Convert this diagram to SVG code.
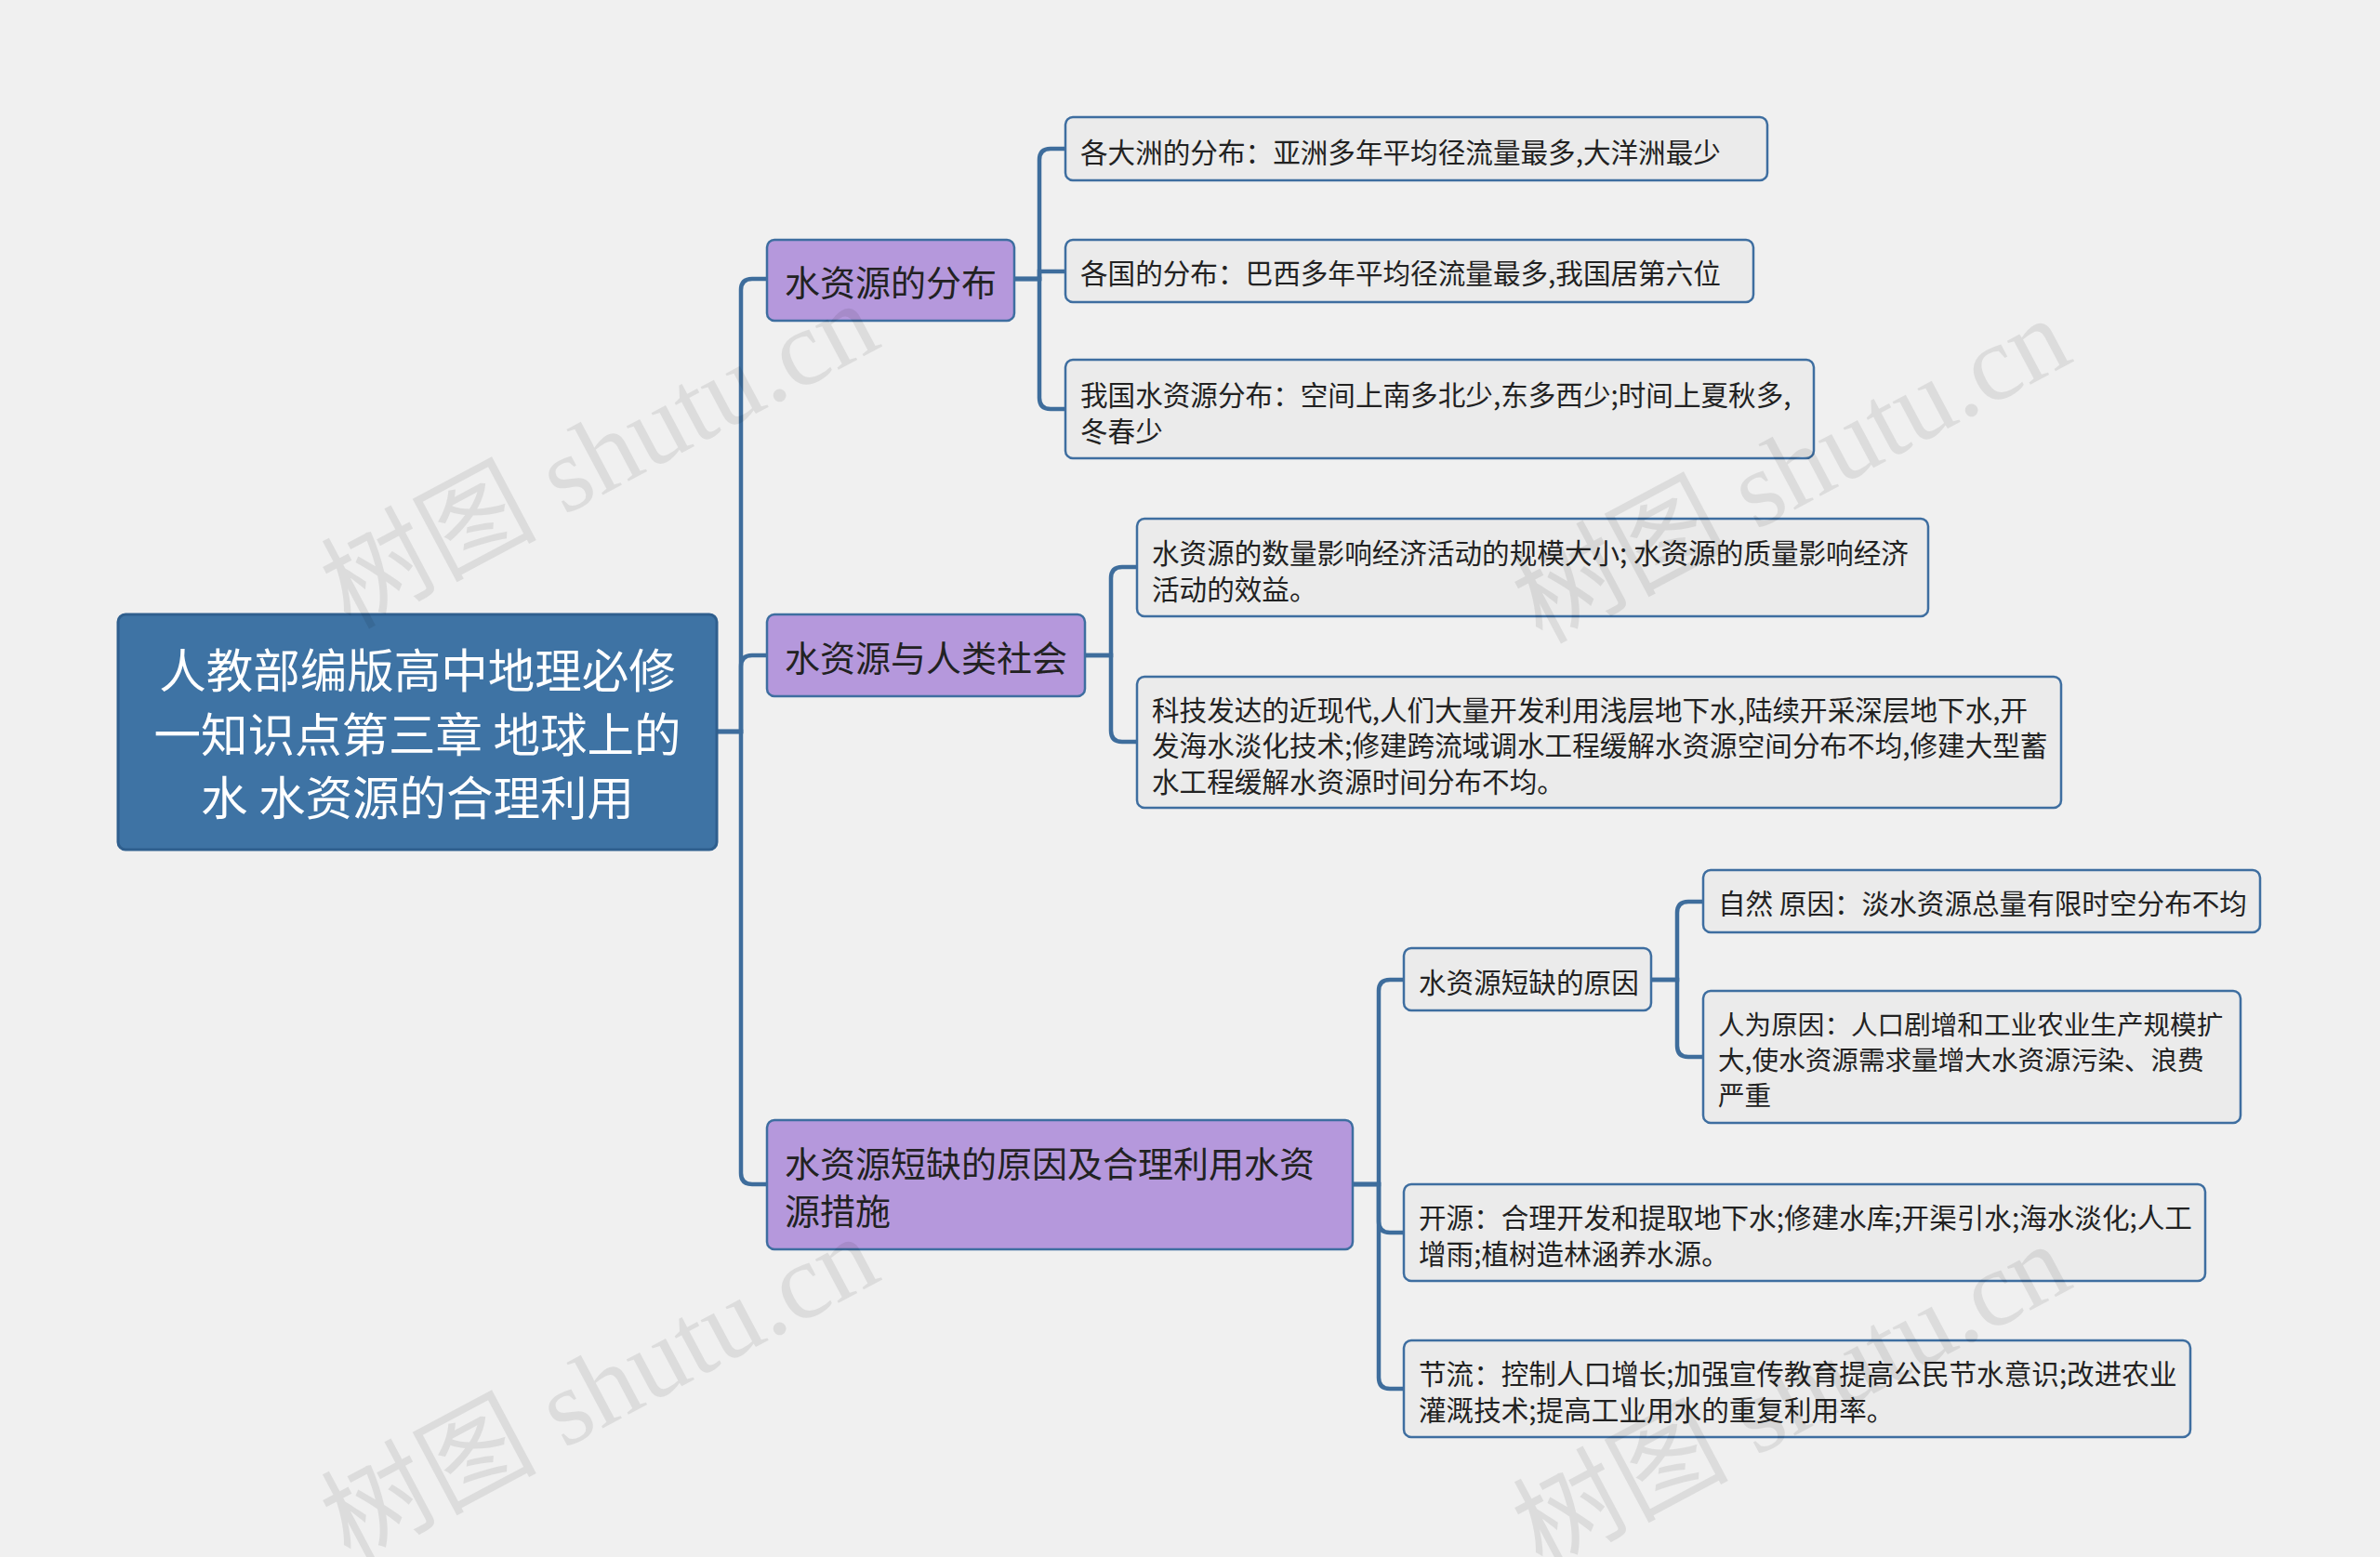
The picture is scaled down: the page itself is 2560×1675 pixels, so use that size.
<svg xmlns="http://www.w3.org/2000/svg" width="2560" height="1675" viewBox="0 0 2560 1675">
<style>
text{font-family:"Noto Sans CJK SC","Noto Sans",sans-serif;dominant-baseline:central}
.root rect{fill:#3e73a4;stroke:#2f5f8e;stroke-width:3}
.root text{fill:#fff;font-size:50.5px;text-anchor:middle}
.l1 rect{fill:#b598dc;stroke:#3e6ea0;stroke-width:2.5}
.l1 text{fill:#222;font-size:38px}
.l2 rect{fill:#ebebeb;stroke:#3e6ea0;stroke-width:2.5}
.l2 text{fill:#222;font-size:29.6px}
#n3a2 text{font-size:28.6px}
#connectors path{fill:none;stroke:#3e6d9c;stroke-width:4.5}
.wm{fill:#000;opacity:0.08;font-size:116px;font-family:"Liberation Serif","Noto Sans CJK SC",serif}
</style>
<rect width="2560" height="1675" fill="#f0f0f0"/>
<g id="connectors">
<path d="M771 787H797V312Q797 300 809 300H825"/>
<path d="M771 787H797V717Q797 705 809 705H825"/>
<path d="M771 787H797V1262Q797 1274 809 1274H825"/>
<path d="M1091 300H1118V172Q1118 160 1130 160H1146"/>
<path d="M1091 300H1118V292H1146"/>
<path d="M1091 300H1118V428Q1118 440 1130 440H1146"/>
<path d="M1167 705H1195V622Q1195 610 1207 610H1223"/>
<path d="M1167 705H1195V786Q1195 798 1207 798H1223"/>
<path d="M1455 1274H1483V1066Q1483 1054 1495 1054H1510"/>
<path d="M1455 1274H1483V1314Q1483 1326 1495 1326H1510"/>
<path d="M1455 1274H1483V1482Q1483 1494 1495 1494H1510"/>
<path d="M1776 1054H1804V982Q1804 970 1816 970H1832"/>
<path d="M1776 1054H1804V1125Q1804 1137 1816 1137H1832"/>
</g>
<g id="root" class="root"><rect x="127" y="661" width="644" height="253" rx="8"/>
<text x="449" y="718">人教部编版高中地理必修</text><text x="449" y="787">一知识点第三章 地球上的</text><text x="449" y="855">水 水资源的合理利用</text></g>
<g id="n1" class="l1"><rect x="825" y="258" width="266" height="87" rx="8"/><text x="844" y="301">水资源的分布</text></g>
<g id="n2" class="l1"><rect x="825" y="661" width="342" height="88" rx="8"/><text x="844" y="705">水资源与人类社会</text></g>
<g id="n3" class="l1"><rect x="825" y="1205" width="630" height="139" rx="8"/><text x="844" y="1249">水资源短缺的原因及合理利用水资</text><text x="844" y="1300">源措施</text></g>
<g id="n1a" class="l2"><rect x="1146" y="126" width="755" height="68" rx="8"/><text x="1162" y="162">各大洲的分布：亚洲多年平均径流量最多,大洋洲最少</text></g>
<g id="n1b" class="l2"><rect x="1146" y="258" width="740" height="67" rx="8"/><text x="1162" y="292">各国的分布：巴西多年平均径流量最多,我国居第六位</text></g>
<g id="n1c" class="l2"><rect x="1146" y="387" width="805" height="106" rx="8"/><text x="1162" y="423">我国水资源分布：空间上南多北少,东多西少;时间上夏秋多,</text><text x="1162" y="462">冬春少</text></g>
<g id="n2a" class="l2"><rect x="1223" y="558" width="851" height="105" rx="8"/><text x="1239" y="593">水资源的数量影响经济活动的规模大小; 水资源的质量影响经济</text><text x="1239" y="632">活动的效益。</text></g>
<g id="n2b" class="l2"><rect x="1223" y="728" width="994" height="141" rx="8"/><text x="1239" y="762">科技发达的近现代,人们大量开发利用浅层地下水,陆续开采深层地下水,开</text><text x="1239" y="800">发海水淡化技术;修建跨流域调水工程缓解水资源空间分布不均,修建大型蓄</text><text x="1239" y="839">水工程缓解水资源时间分布不均。</text></g>
<g id="n3a" class="l2"><rect x="1510" y="1020" width="266" height="67" rx="8"/><text x="1526" y="1055">水资源短缺的原因</text></g>
<g id="n3b" class="l2"><rect x="1510" y="1274" width="862" height="104" rx="8"/><text x="1526" y="1308">开源：合理开发和提取地下水;修建水库;开渠引水;海水淡化;人工</text><text x="1526" y="1347">增雨;植树造林涵养水源。</text></g>
<g id="n3c" class="l2"><rect x="1510" y="1442" width="846" height="104" rx="8"/><text x="1526" y="1476">节流：控制人口增长;加强宣传教育提高公民节水意识;改进农业</text><text x="1526" y="1515">灌溉技术;提高工业用水的重复利用率。</text></g>
<g id="n3a1" class="l2"><rect x="1832" y="936" width="599" height="67" rx="8"/><text x="1848" y="970">自然 原因：淡水资源总量有限时空分布不均</text></g>
<g id="n3a2" class="l2"><rect x="1832" y="1066" width="578" height="142" rx="8"/><text x="1848" y="1100">人为原因：人口剧增和工业农业生产规模扩</text><text x="1848" y="1138">大,使水资源需求量增大水资源污染、浪费</text><text x="1848" y="1176">严重</text></g>
<g id="watermarks">
<text class="wm" x="645" y="490" text-anchor="middle" transform="rotate(-28 645 490)">树图 shutu.cn</text>
<text class="wm" x="1927" y="506" text-anchor="middle" transform="rotate(-28 1927 506)">树图 shutu.cn</text>
<text class="wm" x="645" y="1494" text-anchor="middle" transform="rotate(-28 645 1494)">树图 shutu.cn</text>
<text class="wm" x="1927" y="1502" text-anchor="middle" transform="rotate(-28 1927 1502)">树图 shutu.cn</text>
</g>
</svg>
